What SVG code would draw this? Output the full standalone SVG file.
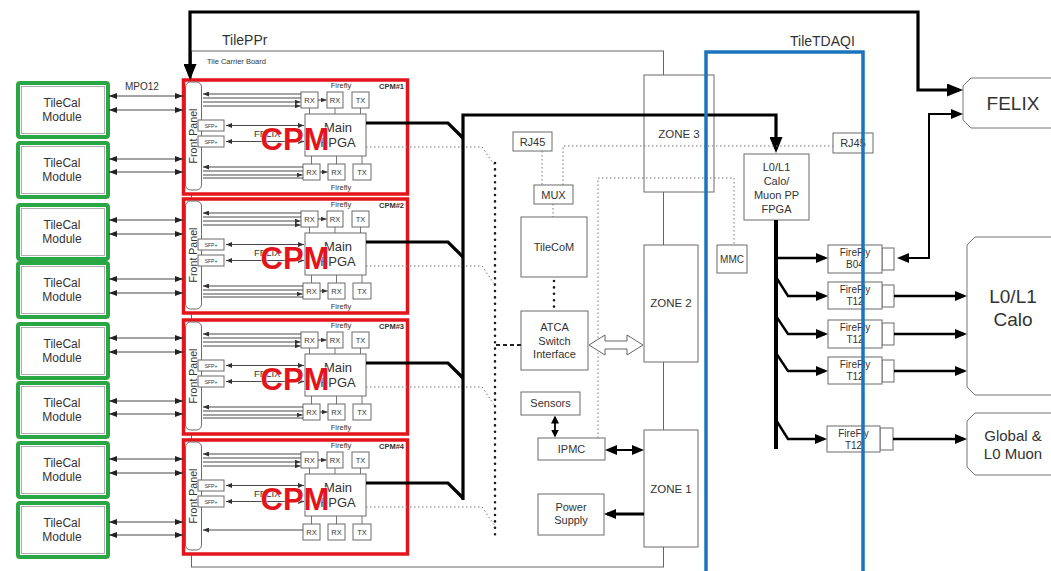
<svg xmlns="http://www.w3.org/2000/svg" width="1051" height="571" viewBox="0 0 1051 571">
<style>
text{font-family:"Liberation Sans",Arial,sans-serif;fill:#333}
.box{fill:#fff;stroke:#6b6b6b;stroke-width:1}
.sm{font-size:7.5px}
.t11{font-size:11px}
.c{text-anchor:middle}
.thin{fill:none;stroke:#333;stroke-width:0.9}
.tick{fill:none;stroke:#666;stroke-width:0.9}
.dot{fill:none;stroke:#777;stroke-width:1;stroke-dasharray:1.5 2.5}
.bigdot{fill:none;stroke:#1a1a1a;stroke-width:2.6;stroke-dasharray:0 6.4;stroke-linecap:round}
.thick{fill:none;stroke:#000;stroke-width:3.2}
.med{fill:none;stroke:#000;stroke-width:2.4}
.mod{fill:#fff;stroke:#2aa745;stroke-width:4}
.modin{fill:none;stroke:#999;stroke-width:0.8}
.cpm{fill:#fff;stroke:#e3141b;stroke-width:3.5}
.big{font-size:31px;font-weight:bold;fill:#e3141b;text-anchor:middle;stroke:#fff;stroke-width:0.8;paint-order:stroke}
.lbl{font-size:7.5px;font-weight:bold;text-anchor:end}
.ext{fill:#fff;stroke:#777;stroke-width:1}
</style>
<defs>
<marker id="ts" viewBox="0 0 6 5" refX="6" refY="2.5" markerWidth="6" markerHeight="5" markerUnits="userSpaceOnUse" orient="auto-start-reverse"><path d="M0,0L6,2.5L0,5z" fill="#333"/></marker>
<marker id="sa" viewBox="0 0 8 6" refX="8" refY="3" markerWidth="8" markerHeight="6" markerUnits="userSpaceOnUse" orient="auto-start-reverse"><path d="M0,0L8,3L0,6z" fill="#222"/></marker>
<marker id="sm" viewBox="0 0 8 8" refX="6.5" refY="4" markerWidth="8" markerHeight="8" markerUnits="userSpaceOnUse" orient="auto-start-reverse"><path d="M0,0L8,4L0,8z" fill="#000"/></marker>
<marker id="ma" viewBox="0 0 12 10" refX="9" refY="5" markerWidth="12" markerHeight="10" markerUnits="userSpaceOnUse" orient="auto-start-reverse"><path d="M0,0L12,5L0,10z" fill="#000"/></marker>
<marker id="la" viewBox="0 0 16 13" refX="12" refY="6.5" markerWidth="16" markerHeight="13" markerUnits="userSpaceOnUse" orient="auto-start-reverse"><path d="M0,0L16,6.5L0,13z" fill="#000"/></marker>
<g id="cpmCore">
<rect class="cpm" x="183.5" y="80" width="224" height="114"/>
<rect class="box" x="185.5" y="82" width="16" height="108" rx="5"/>
<text transform="translate(196.5,136) rotate(-90)" class="c" style="font-size:10.6px">Front Panel</text>
<text x="341" y="88" class="c sm">Firefly</text>
<rect class="box" x="301" y="92" width="17" height="16"/><text x="309.5" y="103" class="c sm">RX</text>
<rect class="box" x="327" y="92" width="16" height="16"/><text x="335" y="103" class="c sm">RX</text>
<rect class="box" x="352" y="92" width="17" height="16"/><text x="360.5" y="103" class="c sm">TX</text>
<path class="tick" d="M309.5,108V114M335,108V114M360.5,108V114M311.5,156V164M336.5,156V164M362,156V164"/>
<rect class="box" x="305" y="114" width="61" height="42"/>
<text x="338" y="132" class="c" style="font-size:13px">Main</text>
<text x="338" y="147" class="c" style="font-size:13px">FPGA</text>
<rect class="box" x="198" y="120" width="26" height="11"/><text x="211" y="127.8" class="c" style="font-size:5px">SFP+</text>
<rect class="box" x="198" y="136" width="26" height="11"/><text x="211" y="143.8" class="c" style="font-size:5px">SFP+</text>
<path class="thin" d="M226,125.5H304" marker-start="url(#ts)" marker-end="url(#ts)"/>
<path class="thin" d="M226,141.5H304" marker-start="url(#ts)" marker-end="url(#ts)"/>
<text x="254" y="137" style="font-size:9.5px">FELIX</text>
<rect class="box" x="303" y="164" width="17" height="16"/><text x="311.5" y="175" class="c sm">RX</text>
<rect class="box" x="328" y="164" width="17" height="16"/><text x="336.5" y="175" class="c sm">RX</text>
<rect class="box" x="353" y="164" width="18" height="16"/><text x="362" y="175" class="c sm">TX</text>
<path class="thin" d="M301,94H203" marker-end="url(#ts)"/>
<path class="thin" d="M203,98H301"/>
<path class="thin" d="M203,102H300.5" marker-end="url(#ts)"/>
<path class="thin" d="M203,106H300.5" marker-end="url(#ts)"/>
<path class="thin" d="M318,100H326.5" marker-end="url(#ts)"/>
<text x="295" y="150" class="big">CPM</text>
</g>
<g id="cpmBottom">
<path class="thin" d="M303,167H203" marker-end="url(#ts)"/>
<path class="thin" d="M203,171H303"/>
<path class="thin" d="M203,175H302.5" marker-end="url(#ts)"/>
<path class="thin" d="M203,178H303"/>
<path class="thin" d="M320,172H327.5" marker-end="url(#ts)"/>
<text x="341" y="190" class="c sm">Firefly</text>
</g>
</defs>

<rect width="1051" height="571" fill="#fff"/>

<g id="tile-carrier-board">
<rect x="191.5" y="51" width="472" height="516" fill="none" stroke="#666" stroke-width="1"/>
<text x="207" y="64" style="font-size:7.5px">Tile Carrier Board</text>
</g>
<text x="222" y="45" style="font-size:14px">TilePPr</text>
<text x="790" y="46" style="font-size:14px">TileTDAQI</text>
<text x="125" y="90" style="font-size:10px">MPO12</text>

<g id="modules">
<g id="module1"><rect class="mod" x="18" y="83" width="90" height="54" rx="2"/><rect class="modin" x="21.5" y="86.5" width="83" height="47"/><text x="62" y="107" class="c" style="font-size:12px">TileCal</text><text x="62" y="121" class="c" style="font-size:12px">Module</text></g>
<g id="module2"><rect class="mod" x="18" y="143" width="90" height="54" rx="2"/><rect class="modin" x="21.5" y="146.5" width="83" height="47"/><text x="62" y="167" class="c" style="font-size:12px">TileCal</text><text x="62" y="181" class="c" style="font-size:12px">Module</text></g>
<g id="module3"><rect class="mod" x="18" y="205" width="90" height="54" rx="2"/><rect class="modin" x="21.5" y="208.5" width="83" height="47"/><text x="62" y="229" class="c" style="font-size:12px">TileCal</text><text x="62" y="243" class="c" style="font-size:12px">Module</text></g>
<g id="module4"><rect class="mod" x="18" y="263" width="90" height="54" rx="2"/><rect class="modin" x="21.5" y="266.5" width="83" height="47"/><text x="62" y="287" class="c" style="font-size:12px">TileCal</text><text x="62" y="301" class="c" style="font-size:12px">Module</text></g>
<g id="module5"><rect class="mod" x="18" y="324" width="90" height="54" rx="2"/><rect class="modin" x="21.5" y="327.5" width="83" height="47"/><text x="62" y="348" class="c" style="font-size:12px">TileCal</text><text x="62" y="362" class="c" style="font-size:12px">Module</text></g>
<g id="module6"><rect class="mod" x="18" y="383" width="90" height="54" rx="2"/><rect class="modin" x="21.5" y="386.5" width="83" height="47"/><text x="62" y="407" class="c" style="font-size:12px">TileCal</text><text x="62" y="421" class="c" style="font-size:12px">Module</text></g>
<g id="module7"><rect class="mod" x="18" y="443" width="90" height="54" rx="2"/><rect class="modin" x="21.5" y="446.5" width="83" height="47"/><text x="62" y="467" class="c" style="font-size:12px">TileCal</text><text x="62" y="481" class="c" style="font-size:12px">Module</text></g>
<g id="module8"><rect class="mod" x="18" y="503" width="90" height="54" rx="2"/><rect class="modin" x="21.5" y="506.5" width="83" height="47"/><text x="62" y="527" class="c" style="font-size:12px">TileCal</text><text x="62" y="541" class="c" style="font-size:12px">Module</text></g>
</g>

<g id="cpm1"><use href="#cpmCore"/><use href="#cpmBottom"/><text x="404" y="89" class="lbl">CPM#1</text></g>
<g id="cpm2" transform="translate(0,119)"><use href="#cpmCore"/><use href="#cpmBottom"/><text x="404" y="89" class="lbl">CPM#2</text></g>
<g id="cpm3" transform="translate(0,240)"><use href="#cpmCore"/><use href="#cpmBottom"/><text x="404" y="89" class="lbl">CPM#3</text></g>
<g id="cpm4" transform="translate(0,360)"><use href="#cpmCore"/><path class="thin" d="M303,170H203" marker-end="url(#ts)"/><text x="404" y="89" class="lbl">CPM#4</text></g>

<g id="rj45-left"><rect class="box" x="513" y="132" width="39" height="19"/><text x="532.5" y="145.5" class="c t11">RJ45</text></g>
<g id="mux"><rect class="box" x="534" y="185" width="39" height="19"/><text x="553.5" y="198.5" class="c t11">MUX</text></g>
<g id="tilecom"><rect class="box" x="521" y="217" width="66" height="60"/><text x="554" y="251" class="c t11">TileCoM</text></g>
<g id="atca"><rect class="box" x="521" y="311" width="67" height="59"/><text x="554.5" y="331" class="c t11">ATCA</text><text x="554.5" y="345" class="c t11">Switch</text><text x="554.5" y="358" class="c t11">Interface</text></g>
<g id="sensors"><rect class="box" x="521" y="392" width="59" height="23"/><text x="550.5" y="407" class="c t11">Sensors</text></g>
<g id="ipmc"><rect class="box" x="538" y="438" width="67" height="22"/><text x="571.5" y="453" class="c t11">IPMC</text></g>
<g id="power-supply"><rect class="box" x="538" y="494" width="66" height="41"/><text x="571" y="511" class="c t11">Power</text><text x="571" y="524" class="c t11">Supply</text></g>
<g id="zone3"><rect class="box" x="644" y="75" width="70" height="117"/><text x="679" y="138" class="c" style="font-size:11.5px">ZONE 3</text></g>
<g id="zone2"><rect class="box" x="644" y="245" width="54" height="117"/><text x="671" y="307" class="c" style="font-size:11.5px">ZONE 2</text></g>
<g id="zone1"><rect class="box" x="644" y="430" width="54" height="117"/><text x="671" y="493" class="c" style="font-size:11.5px">ZONE 1</text></g>

<g id="rj45-right"><rect class="box" x="833" y="133" width="40" height="20"/><text x="853" y="147" class="c t11">RJ45</text></g>
<g id="l0l1-fpga"><rect class="box" x="744" y="154" width="65" height="66"/><text x="776.5" y="171" class="c t11">L0/L1</text><text x="776.5" y="185" class="c t11">Calo/</text><text x="776.5" y="199" class="c t11">Muon PP</text><text x="776.5" y="213" class="c t11">FPGA</text></g>
<g id="mmc"><rect class="box" x="717" y="245" width="30" height="28"/><text x="732" y="263" class="c" style="font-size:10px">MMC</text></g>
<g id="firefly-b04"><rect class="box" x="882" y="248" width="12" height="22"/><rect class="box" x="828" y="245" width="54" height="28"/><text x="855" y="256" class="c" style="font-size:10px">FireFly</text><text x="855" y="268" class="c" style="font-size:10px">B04</text></g>
<g id="firefly-t12-1"><rect class="box" x="882" y="285" width="12" height="22"/><rect class="box" x="828" y="282" width="54" height="27"/><text x="855" y="293" class="c" style="font-size:10px">FireFly</text><text x="855" y="305" class="c" style="font-size:10px">T12</text></g>
<g id="firefly-t12-2"><rect class="box" x="882" y="323" width="12" height="22"/><rect class="box" x="828" y="320" width="54" height="28"/><text x="855" y="331" class="c" style="font-size:10px">FireFly</text><text x="855" y="343" class="c" style="font-size:10px">T12</text></g>
<g id="firefly-t12-3"><rect class="box" x="882" y="360" width="12" height="22"/><rect class="box" x="828" y="357" width="54" height="27"/><text x="855" y="368" class="c" style="font-size:10px">FireFly</text><text x="855" y="380" class="c" style="font-size:10px">T12</text></g>
<g id="firefly-t12-4"><rect class="box" x="880" y="428" width="13" height="22"/><rect class="box" x="827" y="426" width="53" height="26"/><text x="853.5" y="437" class="c" style="font-size:10px">FireFly</text><text x="853.5" y="449" class="c" style="font-size:10px">T12</text></g>

<g id="felix"><path class="ext" d="M971,78H1060V128H971L963,120V86Z"/><text x="1013" y="110" class="c" style="font-size:19px">FELIX</text></g>
<g id="l0l1-calo"><path class="ext" d="M975,237H1060V395H975L967,387V245Z"/><text x="1013" y="303" class="c" style="font-size:19px">L0/L1</text><text x="1013" y="326" class="c" style="font-size:19px">Calo</text></g>
<g id="global-muon"><path class="ext" d="M975,413H1060V475H975L967,467V421Z"/><text x="1013" y="441" class="c" style="font-size:15px">Global &amp;</text><text x="1013" y="459" class="c" style="font-size:15px">L0 Muon</text></g>

<g id="connectors">
<path class="thin" d="M109,96H183" marker-start="url(#sa)" marker-end="url(#sa)"/>
<path class="thin" d="M109,110H183" marker-start="url(#sa)" marker-end="url(#sa)"/>
<path class="thin" d="M109,159H183" marker-start="url(#sa)" marker-end="url(#sa)"/>
<path class="thin" d="M109,172H183" marker-start="url(#sa)" marker-end="url(#sa)"/>
<path class="thin" d="M109,220H183" marker-start="url(#sa)" marker-end="url(#sa)"/>
<path class="thin" d="M109,234H183" marker-start="url(#sa)" marker-end="url(#sa)"/>
<path class="thin" d="M109,279H183" marker-start="url(#sa)" marker-end="url(#sa)"/>
<path class="thin" d="M109,293H183" marker-start="url(#sa)" marker-end="url(#sa)"/>
<path class="thin" d="M109,338H183" marker-start="url(#sa)" marker-end="url(#sa)"/>
<path class="thin" d="M109,352H183" marker-start="url(#sa)" marker-end="url(#sa)"/>
<path class="thin" d="M109,401H183" marker-start="url(#sa)" marker-end="url(#sa)"/>
<path class="thin" d="M109,414H183" marker-start="url(#sa)" marker-end="url(#sa)"/>
<path class="thin" d="M109,459H183" marker-start="url(#sa)" marker-end="url(#sa)"/>
<path class="thin" d="M109,473H183" marker-start="url(#sa)" marker-end="url(#sa)"/>
<path class="thin" d="M109,522H183" marker-start="url(#sa)" marker-end="url(#sa)"/>
<path class="thin" d="M109,535H183" marker-start="url(#sa)" marker-end="url(#sa)"/>

<path class="thick" d="M190,76V12H918V90H959" marker-start="url(#la)" marker-end="url(#la)"/>

<path class="dot" d="M366,147H482L495,166"/>
<path class="dot" d="M366,266H482L495,285"/>
<path class="dot" d="M366,387H482L495,406"/>
<path class="dot" d="M366,507H482L495,526"/>
<path class="bigdot" d="M495,163V537"/>
<path d="M496,345H521" fill="none" stroke="#222" stroke-width="2" stroke-dasharray="4 3"/>
<path class="bigdot" d="M554,281V311"/>

<path class="thick" d="M366,123H448L463,138"/>
<path class="thick" d="M366,242H448L463,257"/>
<path class="thick" d="M366,363H448L463,378"/>
<path class="thick" d="M366,483H448L463,498"/>
<path class="thick" d="M463,500V115H776V149" marker-end="url(#la)"/>

<path class="dot" d="M542,151V185"/>
<path class="dot" d="M563,185V146H833"/>
<path class="dot" d="M553,204V217"/>
<path class="dot" d="M598,438V178H734V245"/>

<path d="M589,345L605,335V341H627V335L643,345L627,355V349H605V355Z" fill="#fff" stroke="#666" stroke-width="1"/>
<path d="M555,417V436" fill="none" stroke="#000" stroke-width="1.8" marker-start="url(#sm)" marker-end="url(#sm)"/>
<path d="M608,450H641" fill="none" stroke="#000" stroke-width="2" marker-start="url(#ma)" marker-end="url(#ma)"/>
<path d="M644,514H607" fill="none" stroke="#000" stroke-width="3" marker-end="url(#ma)"/>

<path d="M776,220V449" fill="none" stroke="#000" stroke-width="4"/>
<path class="med" d="M776,258H825" marker-end="url(#ma)"/>
<path class="med" d="M776,277L788,296H825" marker-end="url(#ma)"/>
<path class="med" d="M776,316L788,334H825" marker-end="url(#ma)"/>
<path class="med" d="M776,353L788,371H825" marker-end="url(#ma)"/>
<path class="med" d="M776,420L788,439H824" marker-end="url(#ma)"/>
<path class="med" d="M894,296H964" marker-end="url(#ma)"/>
<path class="med" d="M894,334H964" marker-end="url(#ma)"/>
<path class="med" d="M894,371H964" marker-end="url(#ma)"/>
<path class="med" d="M893,439H964" marker-end="url(#ma)"/>
<path d="M900,258H929V114H960" fill="none" stroke="#000" stroke-width="2" marker-start="url(#ma)" marker-end="url(#ma)"/>
</g>

<g id="tiletdaqi"><rect x="706" y="52" width="157" height="530" fill="none" stroke="#1c75bc" stroke-width="3.5"/></g>
</svg>
